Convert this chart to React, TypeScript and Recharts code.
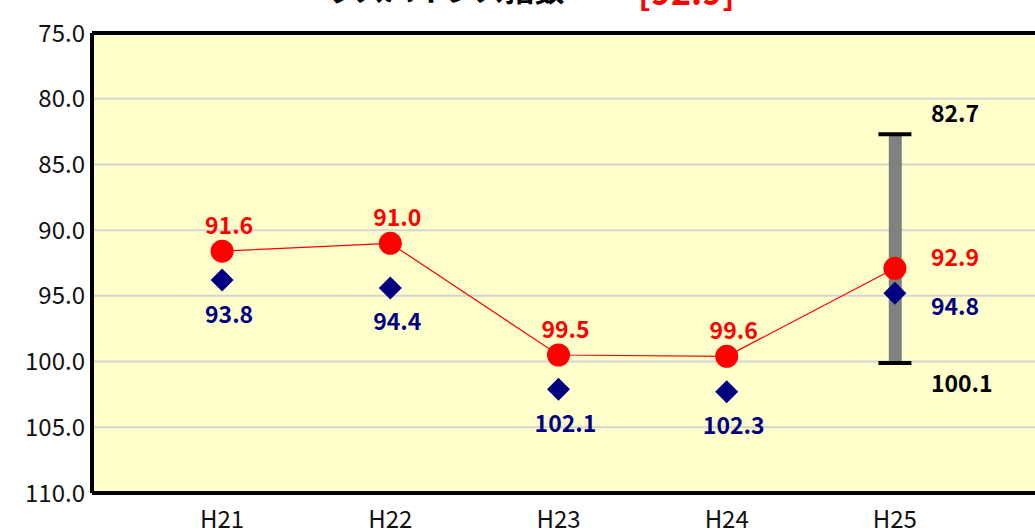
import {
  ComposedChart,
  Bar,
  Line,
  XAxis,
  YAxis,
  CartesianGrid,
  ReferenceLine,
  LabelList,
} from "recharts"

// values
const years = ["H21", "H22", "H23", "H24", "H25"]
const cityIndex = [91.6, 91.0, 99.5, 99.6, 92.9]
const groupAverage = [93.8, 94.4, 102.1, 102.3, 94.8]
const groupTop = [null, null, null, null, 82.7]
const groupBottom = [null, null, null, null, 100.1]
const yTicks = [75, 80, 85, 90, 95, 100, 105, 110]

const data = years.map((year, i) => ({
  year,
  city: cityIndex[i],
  avg: groupAverage[i],
  top: groupTop[i],
  bottom: groupBottom[i],
  range: groupTop[i] != null ? [groupTop[i], groupBottom[i]] : null,
}))

const FONT = '"Noto Sans CJK JP", "Noto Sans", sans-serif'
const LAST = years.length - 1
const labelStyle = { fontFamily: FONT, fontWeight: 700, fontSize: 23 }

const RedDot = (p: any) =>
  p.cy == null ? (
    <g key={p.index} />
  ) : (
    <circle key={p.index} cx={p.cx} cy={p.cy} r={11.5} fill="#ff0000" />
  )

const Diamond = (p: any) => {
  if (p.cy == null) return <g key={p.index} />
  const { cx, cy } = p
  const r = 11.5
  return (
    <path
      key={p.index}
      d={`M${cx},${cy - r}L${cx + r},${cy}L${cx},${cy + r}L${cx - r},${cy}Z`}
      fill="#000080"
    />
  )
}

const Cap = (p: any) =>
  p.cy == null ? (
    <g key={p.index} />
  ) : (
    <line
      key={p.index}
      x1={p.cx - 16.5}
      x2={p.cx + 16.5}
      y1={p.cy}
      y2={p.cy}
      stroke="#000"
      strokeWidth={4}
    />
  )

function cityLabel(p: any) {
  const { x, y, value, index } = p
  if (value == null) return null
  if (index === LAST)
    return (
      <text x={x + 36} y={y - 2.5} fill="#ff0000" {...labelStyle}>
        {Number(value).toFixed(1)}
      </text>
    )
  return (
    <text x={x + 7} y={y - 17} textAnchor="middle" fill="#ff0000" {...labelStyle}>
      {Number(value).toFixed(1)}
    </text>
  )
}

function avgLabel(p: any) {
  const { x, y, value, index } = p
  if (value == null) return null
  if (index === LAST)
    return (
      <text x={x + 36} y={y + 21.5} fill="#000080" {...labelStyle}>
        {Number(value).toFixed(1)}
      </text>
    )
  return (
    <text x={x + 7} y={y + 42.5} textAnchor="middle" fill="#000080" {...labelStyle}>
      {Number(value).toFixed(1)}
    </text>
  )
}

const capLabel = (dy: number) => (p: any) => {
  const { x, y, value } = p
  if (value == null) return null
  return (
    <text x={x + 36} y={y + dy} fill="#000" {...labelStyle}>
      {Number(value).toFixed(1)}
    </text>
  )
}

export default function App() {
  return (
    <div
      style={{
        position: "absolute",
        left: 0,
        top: 0,
        width: 1035,
        height: 532,
        overflow: "hidden",
        background: "#fff",
      }}
    >
      <div
        style={{
          position: "absolute",
          left: 325,
          top: -27,
          fontFamily: FONT,
          fontWeight: 700,
          fontSize: 30,
          lineHeight: "30px",
          color: "#000",
          whiteSpace: "nowrap",
        }}
      >
        ラスパイレス指数
      </div>
      <div
        style={{
          position: "absolute",
          left: 638,
          top: -26,
          fontFamily: FONT,
          fontWeight: 700,
          fontSize: 34,
          lineHeight: "34px",
          color: "#ff0000",
          whiteSpace: "nowrap",
        }}
      >
        [92.9]
      </div>
      <ComposedChart
        width={1080}
        height={532}
        data={data}
        margin={{ top: 33, right: 0, bottom: 0, left: 0 }}
        style={{ position: "absolute", left: 0, top: 0 }}
      >
        <CartesianGrid
          vertical={false}
          stroke="#d4d4d4"
          strokeWidth={2}
          fill="#ffffcc"
          fillOpacity={1}
        />
        <XAxis
          dataKey="year"
          interval={0}
          height={39}
          padding={{ left: 46, right: 101 }}
          tickLine={false}
          tickSize={0}
          tickMargin={18}
          axisLine={{ stroke: "#000", strokeWidth: 4 }}
          tick={{ fontFamily: FONT, fontSize: 24, fill: "#111" }}
        />
        <YAxis
          domain={[75, 110]}
          reversed
          ticks={yTicks}
          interval={0}
          allowDataOverflow
          width={92}
          tickLine={false}
          tickSize={0}
          tickMargin={7}
          axisLine={{ stroke: "#000", strokeWidth: 4 }}
          tick={{ fontFamily: FONT, fontSize: 24, fill: "#111" }}
          tickFormatter={(v: number) => v.toFixed(1)}
        />
        <ReferenceLine y={75} stroke="#000" strokeWidth={4} />
        <Bar dataKey="range" fill="#808080" barSize={13} isAnimationActive={false} />
        <Line
          dataKey="top"
          stroke="none"
          dot={Cap}
          activeDot={false}
          isAnimationActive={false}
        >
          <LabelList dataKey="top" content={capLabel(-12.5)} />
        </Line>
        <Line
          dataKey="bottom"
          stroke="none"
          dot={Cap}
          activeDot={false}
          isAnimationActive={false}
        >
          <LabelList dataKey="bottom" content={capLabel(29.5)} />
        </Line>
        <Line
          dataKey="city"
          stroke="#ff0000"
          strokeWidth={1.2}
          dot={RedDot}
          activeDot={false}
          isAnimationActive={false}
        >
          <LabelList dataKey="city" content={cityLabel} />
        </Line>
        <Line
          dataKey="avg"
          stroke="none"
          dot={Diamond}
          activeDot={false}
          isAnimationActive={false}
        >
          <LabelList dataKey="avg" content={avgLabel} />
        </Line>
      </ComposedChart>
    </div>
  )
}
